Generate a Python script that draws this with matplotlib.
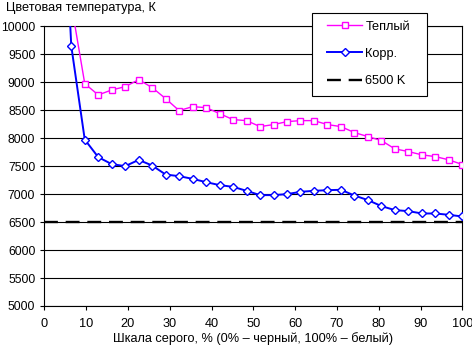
import matplotlib
matplotlib.use("Agg")
import matplotlib.pyplot as plt
from matplotlib.patches import Rectangle
import numpy as np

# ---- data ----
levels = np.arange(32) * 100.0 / 31.0  # grey scale points, %
warm_idx = list(range(2, 32))
warm = [10400, 8975, 8773, 8862, 8921, 9046, 8904, 8707, 8493, 8564,
        8546, 8439, 8332, 8314, 8207, 8243, 8296, 8314, 8314, 8243,
        8207, 8100, 8029, 7957, 7809, 7761, 7702, 7671, 7613, 7529]
corr_idx = list(range(1, 32))
corr = [14500, 9648, 7975, 7661, 7536, 7500, 7612, 7511, 7350, 7321, 7273,
        7214, 7161, 7130, 7059, 6982, 6982, 7000, 7041, 7059, 7071,
        7077, 6975, 6893, 6786, 6714, 6696, 6654, 6654, 6630, 6600]
ref_x = [0, 100]
ref_y = [6500, 6500]

labels = ["Теплый", "Корр.", "6500 K"]
title = "Цветовая температура, К"
xlabel = "Шкала серого, % (0% – черный, 100% – белый)"

plt.rcParams['font.family'] = ['Liberation Sans', 'DejaVu Sans']
plt.rcParams['lines.scale_dashes'] = False
FS = 9.2

W, H = 472, 349
fig = plt.figure(figsize=(W / 100, H / 100), dpi=100)
ax = fig.add_axes([44.3 / W, 1 - 306 / H, (462.3 - 44.3) / W, (306 - 26.3) / H])

wx = levels[warm_idx]
cx = levels[corr_idx]
l1, = ax.plot(wx, warm, color='#FF00FF', lw=1.0, marker='s', ms=5.0,
              mfc='white', mec='#FF00FF', mew=1.0, zorder=3)
l2, = ax.plot(cx, corr, color='#0000FF', lw=1.4, marker='D', ms=4.3,
              mfc='white', mec='#0000FF', mew=1.0, zorder=4)
l3, = ax.plot(ref_x, ref_y, color='black', lw=1.7, dashes=(10, 5.6), zorder=2)

ax.set_xlim(0, 100)
ax.set_ylim(5000, 10000)
ax.set_xticks(np.arange(0, 101, 10))
ax.set_yticks(np.arange(5000, 10001, 500))
ax.grid(axis='y', color='black', lw=0.8)
ax.set_axisbelow(True)
for s in ax.spines.values():
    s.set_color('black')
    s.set_linewidth(0.8)
ax.tick_params(direction='out', length=3, width=0.8, colors='black',
               labelsize=FS)
ax.tick_params(axis='y', pad=3.5, labelsize=8.7)
ax.tick_params(axis='x', pad=5.5)
ax.set_xlabel(xlabel, fontsize=FS, labelpad=1.5)

fig.text(6 / W, 1 - 11.5 / H, title, fontsize=FS, ha='left', va='baseline')

# legend frame
fig.patches.append(Rectangle((312 / W, 1 - 96 / H), (426.7 - 312) / W, (96 - 13.3) / H,
                             transform=fig.transFigure, facecolor='white',
                             edgecolor='black', lw=0.8, zorder=4))
leg = fig.legend([l1, l2, l3], labels, loc='upper left',
                 bbox_to_anchor=(327 / W, 1 - 20.5 / H), frameon=False,
                 borderpad=0, borderaxespad=0, handlelength=2.75,
                 handletextpad=0.25, labelspacing=1.2, fontsize=FS)
leg.set_zorder(5)

fig.savefig("out.png", dpi=100)
